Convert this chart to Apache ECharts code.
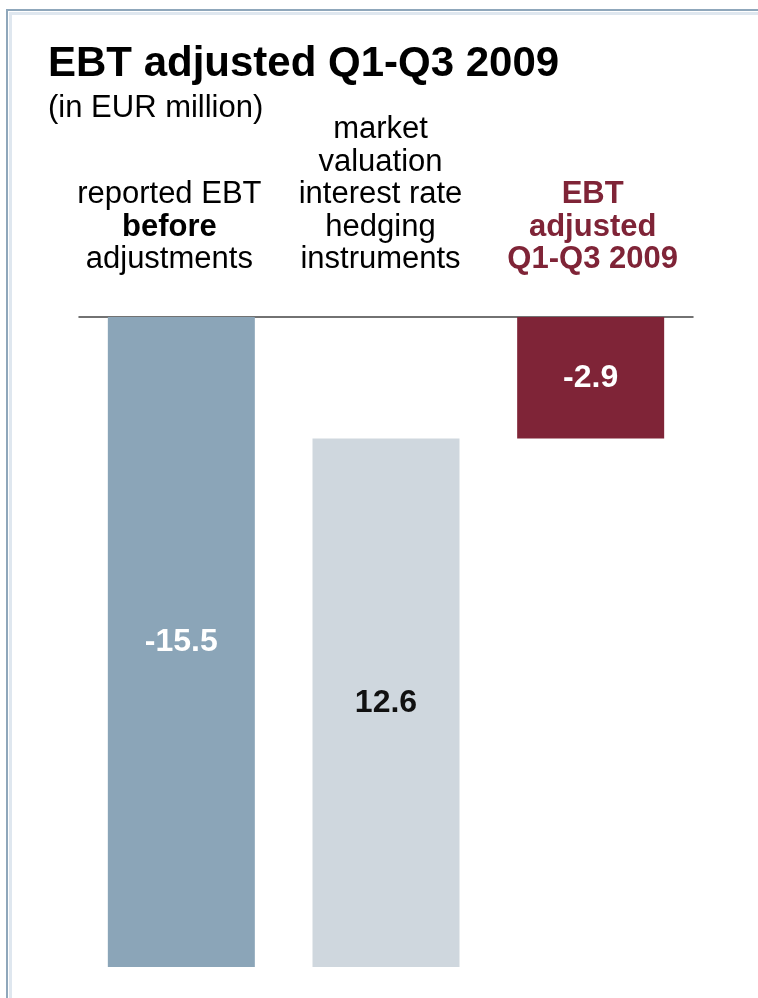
<!DOCTYPE html>
<html>
<head>
<meta charset="utf-8">
<script src="https://cdn.jsdelivr.net/npm/echarts@6/dist/echarts.min.js"></script>
<style>
  html, body { margin: 0; padding: 0; background: #ffffff; }
  #chart { width: 758px; height: 998px; }
</style>
</head>
<body>
<div id="chart"></div>
<script>
// Bridge from reported EBT to adjusted EBT (EUR million)
const categories = ['reported', 'hedging', 'adjusted'];
const stepBase = [0, -15.5, 0];          // invisible offset each step starts from
const stepValues = [-15.5, 12.6, -2.9];  // visible step size
const barColors = ['#8ba5b8', '#cfd7de', '#7f2437'];
const labelColors = ['#ffffff', '#111111', '#ffffff'];

const FONT = '"Liberation Sans", Arial, sans-serif';

const chart = echarts.init(document.getElementById('chart'));

chart.setOption({
  animation: false,
  backgroundColor: '#ffffff',
  title: [
    {
      text: 'EBT adjusted Q1-Q3 2009',
      left: 43, top: 38,
      textStyle: { fontFamily: FONT, fontSize: 42, fontWeight: 'bold', color: '#000000' }
    },
    {
      text: '(in EUR million)',
      left: 43, top: 88,
      textStyle: { fontFamily: FONT, fontSize: 31, fontWeight: 'normal', color: '#000000' }
    }
  ],
  graphic: [
    // double frame on the top and left edges
    { type: 'rect', shape: { x: 6, y: 9, width: 752, height: 2 }, style: { fill: '#8fa7bb' } },
    { type: 'rect', shape: { x: 6, y: 9, width: 2, height: 989 }, style: { fill: '#8fa7bb' } },
    { type: 'rect', shape: { x: 9, y: 12, width: 749, height: 3 }, style: { fill: '#dfe7ef' } },
    { type: 'rect', shape: { x: 9, y: 12, width: 3, height: 986 }, style: { fill: '#dfe7ef' } }
  ],
  grid: { left: 79, right: 65, top: 317, height: 650, containLabel: false },
  xAxis: {
    type: 'category',
    position: 'top',
    data: [
      { value: categories[0], textStyle: { padding: [0, 24, 0, 0] } },
      { value: categories[1], textStyle: { padding: [0, 11, 0, 0] } },
      { value: categories[2], textStyle: { padding: [0, 0, 0, 4] } }
    ],
    axisLine: { show: true, lineStyle: { color: '#444444', width: 1.5 } },
    axisTick: { show: false },
    axisLabel: {
      margin: 41,
      interval: 0,
      fontFamily: FONT,
      formatter: function (v) {
        if (v === 'reported') return '{n|reported EBT}\n{b|before}\n{n|adjustments}';
        if (v === 'hedging') return '{n|market}\n{n|valuation}\n{n|interest rate}\n{n|hedging}\n{n|instruments}';
        return '{r|EBT}\n{r|adjusted}\n{r|Q1-Q3 2009}';
      },
      rich: {
        n: { fontFamily: FONT, fontSize: 31, color: '#000000', lineHeight: 32.5, align: 'center' },
        b: { fontFamily: FONT, fontSize: 31, fontWeight: 'bold', color: '#000000', lineHeight: 32.5, align: 'center' },
        r: { fontFamily: FONT, fontSize: 31, fontWeight: 'bold', color: '#7f2437', lineHeight: 32.5, align: 'center' }
      }
    }
  },
  yAxis: {
    type: 'value',
    min: -15.5,
    max: 0,
    show: false,
    splitLine: { show: false }
  },
  series: [
    {
      type: 'bar',
      stack: 'bridge',
      stackStrategy: 'all',
      barWidth: 147,
      silent: true,
      itemStyle: { color: 'transparent' },
      data: stepBase
    },
    {
      type: 'bar',
      stack: 'bridge',
      stackStrategy: 'all',
      barWidth: 147,
      data: stepValues.map((v, i) => ({
        value: v,
        itemStyle: { color: barColors[i] },
        label: { color: labelColors[i] }
      })),
      label: {
        show: true,
        position: 'inside',
        fontFamily: FONT,
        fontSize: 32,
        fontWeight: 'bold',
        formatter: p => p.value.toFixed(1)
      }
    }
  ]
});
</script>
</body>
</html>
